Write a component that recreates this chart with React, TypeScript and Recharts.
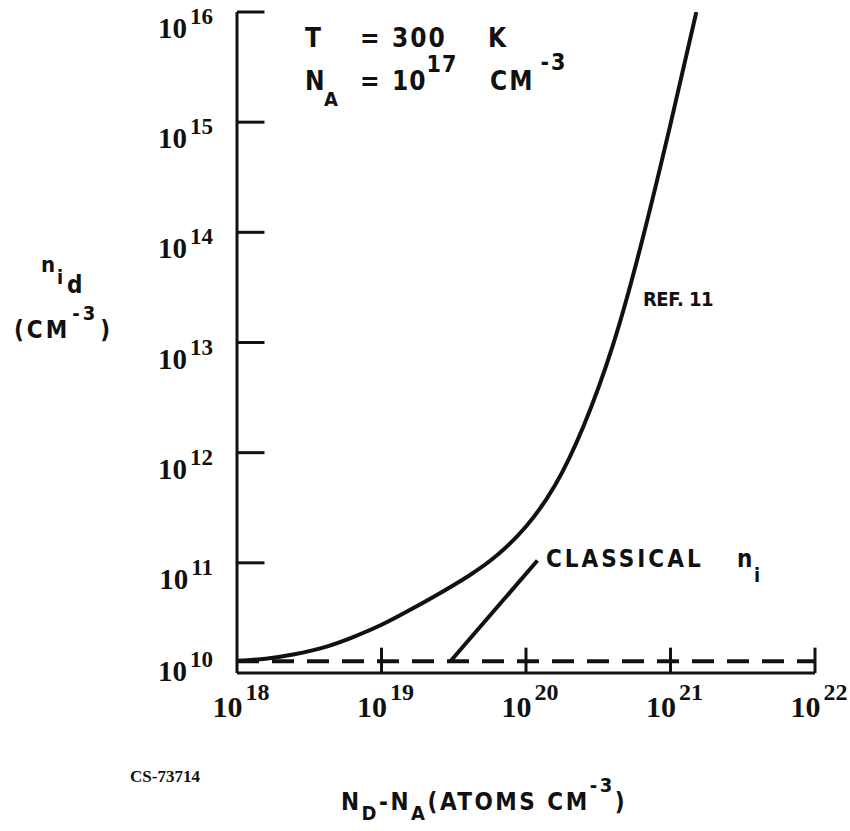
import { ComposedChart, Line, XAxis, YAxis, ReferenceLine } from "recharts";

// REF. 11 curve
const REF_X = [1e18, 1.58e18, 2.5e18, 4e18, 6.3e18, 1e19, 1.58e19, 2.5e19, 4e19, 6.3e19, 1e20, 1.58e20, 2.5e20, 4e20, 6.3e20, 1e21, 1.51e21];
const REF_Y = [1.29e10, 1.35e10, 1.48e10, 1.71e10, 2.11e10, 2.74e10, 3.75e10, 5.25e10, 7.6e10, 1.17e11, 2.14e11, 5.0e11, 1.74e12, 9.5e12, 8.0e13, 9.6e14, 1e16];

// classical n_i (dashed) and the leader line from its label
const CLASSICAL_X = [1e18, 1e22];
const CLASSICAL_Y = [1.28e10, 1.28e10];
const LEADER_X = [3.0e19, 1.2e20];
const LEADER_Y = [1.28e10, 1.05e11];

const X_TICKS = [1e18, 1e19, 1e20, 1e21, 1e22];
const Y_TICKS = [1e10, 1e11, 1e12, 1e13, 1e14, 1e15, 1e16];

const refData = REF_X.map((x, i) => ({ x, y: REF_Y[i] }));
const classicalData = CLASSICAL_X.map((x, i) => ({ x, y: CLASSICAL_Y[i] }));
const leaderData = LEADER_X.map((x, i) => ({ x, y: LEADER_Y[i] }));

const SERIF = "'Liberation Serif', 'DejaVu Serif', serif";
const LETTER = "'DejaVu Sans Condensed', 'Liberation Sans Narrow', 'DejaVu Sans', sans-serif";
const INK = "#111";

// inward tick lengths, in decades
const Y_TICK_LEN = 0.19;
const X_TICK_LEN = 0.23;

function expOf(v: number) {
  return Math.round(Math.log10(v));
}

function YTick(props: any) {
  const { x, y, payload } = props;
  const e = expOf(payload.value);
  // the bottom label sits on the axis in the original
  const lift = e === 10 ? 18 : 0;
  return (
    <text x={x - 22} y={y + 26 - lift} textAnchor="end" fill={INK} fontFamily={SERIF} fontWeight="bold" fontSize={29}>
      10
      <tspan dy={-14} fontSize={23} dx={3}>{e}</tspan>
    </text>
  );
}

function XTick(props: any) {
  const { x, y, payload } = props;
  return (
    <text x={x + 4} y={y + 42} textAnchor="middle" fill={INK} fontFamily={SERIF} fontWeight="bold" fontSize={30}>
      10
      <tspan dy={-17} fontSize={24} dx={3}>{expOf(payload.value)}</tspan>
    </text>
  );
}

export default function App() {
  return (
    <div style={{ position: "absolute", left: 0, top: 0, width: 850, height: 831, background: "#fff" }}>
      <ComposedChart width={850} height={831} margin={{ top: 12, right: 35, left: 177, bottom: 98 }}>
        <XAxis
          type="number"
          dataKey="x"
          scale="log"
          domain={[1e18, 1e22]}
          ticks={X_TICKS}
          allowDataOverflow
          height={60}
          tickSize={0}
          tickLine={false}
          axisLine={{ stroke: INK, strokeWidth: 3 }}
          tick={<XTick />}
          interval={0}
        />
        <YAxis
          type="number"
          dataKey="y"
          scale="log"
          domain={[1e10, 1e16]}
          ticks={Y_TICKS}
          allowDataOverflow
          width={60}
          tickSize={0}
          tickLine={false}
          axisLine={{ stroke: INK, strokeWidth: 3 }}
          tick={<YTick />}
          interval={0}
        />
        {Y_TICKS.slice(1).map((v) => (
          <ReferenceLine
            key={"yt" + v}
            segment={[{ x: 1e18, y: v }, { x: 1e18 * Math.pow(10, Y_TICK_LEN), y: v }]}
            stroke={INK}
            strokeWidth={3}
            ifOverflow="visible"
          />
        ))}
        {X_TICKS.slice(1).map((v) => (
          <ReferenceLine
            key={"xt" + v}
            segment={[{ x: v, y: 1e10 }, { x: v, y: 1e10 * Math.pow(10, X_TICK_LEN) }]}
            stroke={INK}
            strokeWidth={3}
            ifOverflow="visible"
          />
        ))}
        <Line
          data={classicalData}
          dataKey="y"
          type="linear"
          stroke={INK}
          strokeWidth={4}
          strokeDasharray="22 13"
          dot={false}
          isAnimationActive={false}
        />
        <Line
          data={leaderData}
          dataKey="y"
          type="linear"
          stroke={INK}
          strokeWidth={4}
          dot={false}
          isAnimationActive={false}
        />
        <Line
          data={refData}
          dataKey="y"
          type="natural"
          stroke={INK}
          strokeWidth={4}
          dot={false}
          isAnimationActive={false}
        />
      </ComposedChart>

      <svg width={850} height={831} style={{ position: "absolute", left: 0, top: 0, pointerEvents: "none" }}>
        <g fill={INK} fontFamily={LETTER} fontWeight="bold">
          {/* conditions */}
          <text x={305} y={47} fontSize={26}>T</text>
          <text x={360} y={47} fontSize={26}>=</text>
          <text x={392} y={47} fontSize={26} letterSpacing={2}>300</text>
          <text x={488} y={47} fontSize={26}>K</text>
          <text x={305} y={90} fontSize={26}>N</text>
          <text x={324} y={106} fontSize={20}>A</text>
          <text x={360} y={90} fontSize={26}>=</text>
          <text x={392} y={90} fontSize={26} letterSpacing={1}>
            10<tspan dy={-18} fontSize={23}>17</tspan>
          </text>
          <text x={490} y={90} fontSize={26} letterSpacing={2}>
            CM<tspan dy={-20} dx={6} fontSize={23}>-3</tspan>
          </text>

          <text x={643} y={306} fontSize={20} letterSpacing={-0.5}>REF. 11</text>

          <text x={546} y={567} fontSize={24} letterSpacing={3}>CLASSICAL</text>
          <text x={737} y={567} fontSize={24}>n</text>
          <text x={754} y={582} fontSize={20}>i</text>

          {/* y axis title */}
          <text x={41} y={272} fontSize={22}>n</text>
          <text x={57} y={284} fontSize={20}>i</text>
          <text x={67} y={293} fontSize={24}>d</text>
          <text x={14} y={338} fontSize={24} letterSpacing={3}>
            (CM<tspan dy={-18} dx={2} fontSize={20}>-3</tspan><tspan dy={18} dx={2}>)</tspan>
          </text>

          {/* x axis title */}
          <text x={341} y={810} fontSize={24} letterSpacing={2.5}>
            N<tspan dy={10} fontSize={20}>D</tspan><tspan dy={-10}>-N</tspan><tspan dy={10} fontSize={20}>A</tspan>
            <tspan dy={-10}>(ATOMS CM</tspan><tspan dy={-18} fontSize={20}>-3</tspan><tspan dy={18}>)</tspan>
          </text>
        </g>
        <text x={130} y={782} fill={INK} fontFamily={SERIF} fontWeight="bold" fontSize={17}>CS-73714</text>
      </svg>
    </div>
  );
}
